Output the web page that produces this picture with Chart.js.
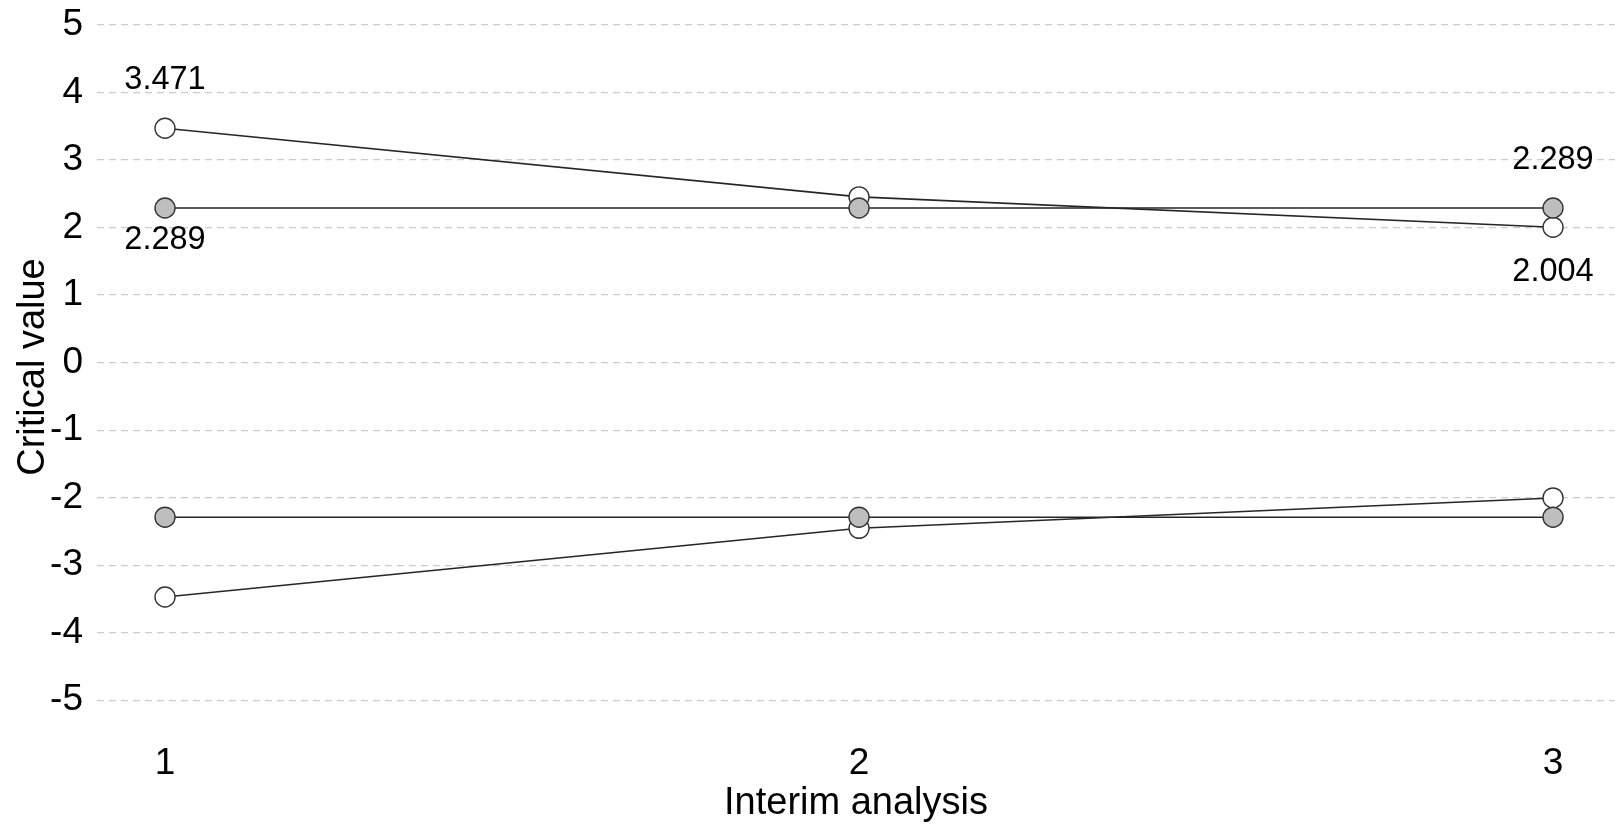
<!DOCTYPE html>
<html>
<head>
<meta charset="utf-8">
<script src="https://cdn.jsdelivr.net/npm/chart.js@4.4.0/dist/chart.umd.min.js"></script>
<style>
  html, body { margin: 0; padding: 0; background: #ffffff; }
  #wrap { width: 1615px; height: 824px; }
</style>
</head>
<body>
<div id="wrap"><canvas id="c" width="1615" height="824"></canvas></div>
<script>
// ---- data ----
const analyses = [1, 2, 3];
const obfUpper = [3.471, 2.454, 2.004];
const obfLower = [-3.471, -2.454, -2.004];
const pocockUpper = [2.289, 2.289, 2.289];
const pocockLower = [-2.289, -2.289, -2.289];
const yTicks = [-5, -4, -3, -2, -1, 0, 1, 2, 3, 4, 5];
const xTicks = [1, 2, 3];
const labelAnalysis = [1, 1, 3, 3];
const labelValues = [3.471, 2.289, 2.289, 2.004];
const labelTexts = ['3.471', '2.289', '2.289', '2.004'];

// ---- styles ----
const FONT = '"Liberation Sans", Arial, sans-serif';
const labelOffsets = [-48, 32, -48, 45]; // pixel nudges for labels
const lineColor = '#262626';

function pts(vals) { return analyses.map((a, i) => ({ x: a, y: vals[i] })); }

function lineDs(vals) {
  return { data: pts(vals), borderColor: lineColor, borderWidth: 1.6, pointRadius: 0,
           pointHoverRadius: 0, fill: false, tension: 0, order: 10 };
}
function pointDs(vals, fill) {
  return { data: pts(vals), showLine: false, pointRadius: 10, pointHoverRadius: 10,
           pointBackgroundColor: fill, pointBorderColor: '#333333', pointBorderWidth: 1.4, order: 1 };
}

const labelPlugin = {
  id: 'valueLabels',
  afterDatasetsDraw(chart) {
    const { ctx, scales: { x, y } } = chart;
    ctx.save();
    ctx.font = '32.5px ' + FONT;
    ctx.fillStyle = '#000000';
    ctx.textAlign = 'center';
    ctx.textBaseline = 'middle';
    labelTexts.forEach((t, i) => {
      ctx.fillText(t, x.getPixelForValue(labelAnalysis[i]), y.getPixelForValue(labelValues[i]) + labelOffsets[i]);
    });
    ctx.restore();
  }
};

new Chart(document.getElementById('c'), {
  type: 'line',
  data: {
    datasets: [
      lineDs(obfUpper), lineDs(pocockUpper), lineDs(obfLower), lineDs(pocockLower),
      pointDs(pocockUpper, '#bebebe'), pointDs(pocockLower, '#bebebe'),
      pointDs(obfUpper, '#ffffff'), pointDs(obfLower, '#ffffff')
    ]
  },
  options: {
    responsive: false,
    animation: false,
    events: [],
    layout: { padding: 0, autoPadding: false },
    plugins: { legend: { display: false }, tooltip: { enabled: false } },
    scales: {
      x: {
        type: 'linear',
        min: 0.902,
        max: 3.0893,
        afterBuildTicks(s) { s.ticks = xTicks.map(v => ({ value: v })); },
        afterFit(s) { s.height = 90; s.paddingLeft = 0; s.paddingRight = 0; },
        grid: { display: false, drawTicks: false },
        border: { display: false },
        ticks: { font: { family: FONT, size: 37 }, color: '#000000', padding: 8, maxRotation: 0 },
        title: { display: true, text: 'Interim analysis', color: '#000000',
                 font: { family: FONT, size: 38 }, padding: { top: 0, bottom: -2 } }
      },
      y: {
        type: 'linear',
        min: -5.5,
        max: 5.37,
        afterBuildTicks(s) { s.ticks = yTicks.map(v => ({ value: v })); },
        afterFit(s) { s.width = 97; s.paddingTop = 0; s.paddingBottom = 0; },
        grid: { color: '#cccccc', lineWidth: 1.2, drawTicks: false },
        border: { display: false, dash: [7, 5] },
        ticks: { font: { family: FONT, size: 37 }, color: '#000000', padding: 14 },
        title: { display: true, text: 'Critical value', color: '#000000',
                 font: { family: FONT, size: 38 }, padding: { top: 11, bottom: 0 } }
      }
    }
  },
  plugins: [labelPlugin]
});
</script>
</body>
</html>
